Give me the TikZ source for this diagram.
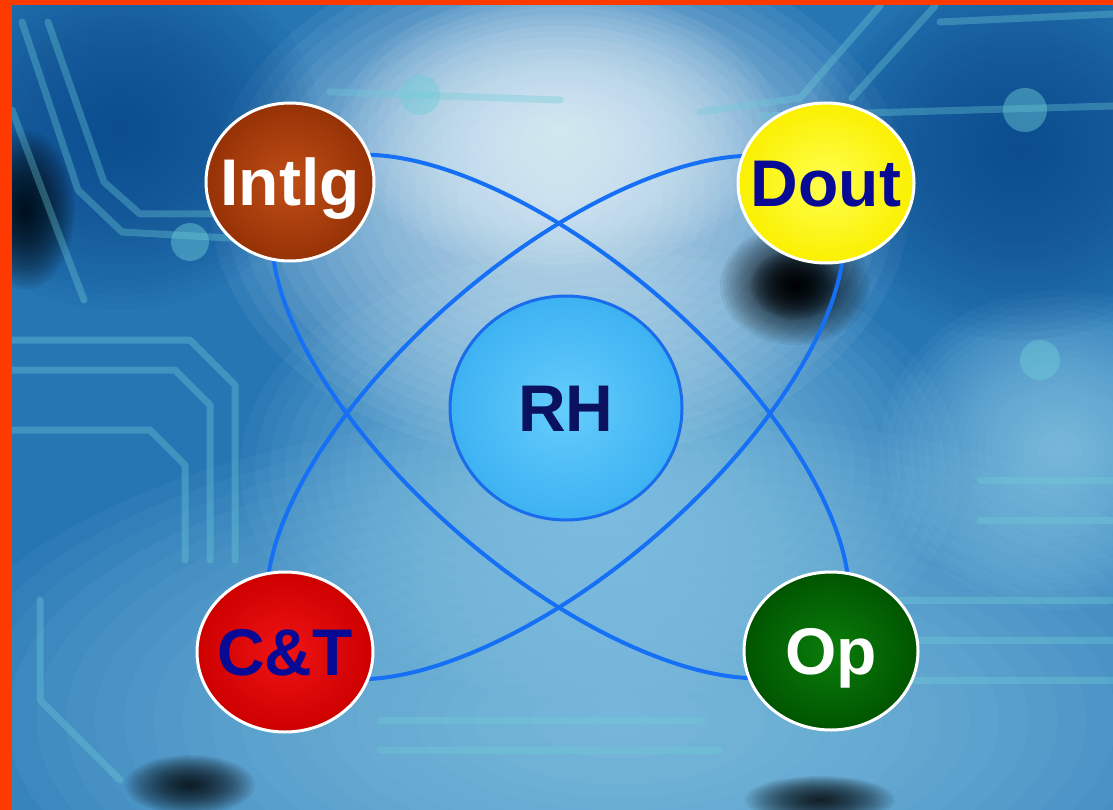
\documentclass[tikz,border=0pt]{standalone}
\usepackage{fontspec}
\setmainfont{Liberation Sans}
\usetikzlibrary{shapes.geometric,calc}
\pgfdeclarelayer{photo}
\pgfdeclarelayer{orbit}
\pgfsetlayers{photo,orbit,main}
\definecolor{bordercol}{RGB}{255,58,0}
\definecolor{bgbase}{RGB}{38,118,180}
\definecolor{bglight}{RGB}{232,247,254}
\definecolor{bgmid}{RGB}{150,210,238}
\definecolor{bgdark}{RGB}{12,72,138}
\definecolor{tracecol}{RGB}{110,205,215}
\definecolor{linkblue}{RGB}{22,112,245}
\definecolor{intlgin}{RGB}{192,78,22}
\definecolor{intlgout}{RGB}{150,50,6}
\definecolor{doutin}{RGB}{255,255,80}
\definecolor{doutout}{RGB}{250,240,0}
\definecolor{ctin}{RGB}{240,20,20}
\definecolor{ctout}{RGB}{205,0,0}
\definecolor{opin}{RGB}{10,125,10}
\definecolor{opout}{RGB}{0,85,0}
\definecolor{rhin}{RGB}{100,205,252}
\definecolor{rhout}{RGB}{62,178,242}
\definecolor{rhedge}{RGB}{25,108,235}
\definecolor{navy}{RGB}{8,10,150}
\definecolor{darknavy}{RGB}{10,18,95}
\newcommand{\blob}[5]{\foreach \k in {1,...,24}{\fill[#5, opacity=0.06] (#1,#2) ellipse [x radius={#3/24*\k*1pt}, y radius={#4/24*\k*1pt}];}}
\begin{document}
\begin{tikzpicture}[x=1pt,y=-1pt,
  orb/.style={ellipse, draw=white, line width=3pt, inner sep=0pt,
    font=\bfseries\fontsize{66}{66}\selectfont, text height=47pt, text depth=0pt},
  link/.style={draw=linkblue, line width=4pt},
  trace/.style={draw=tracecol, line width=7pt, opacity=0.35, line cap=round, line join=round},
  pad/.style={fill=tracecol, opacity=0.45}]
\useasboundingbox (0,0) rectangle (1113,810);
% nodes
\node[orb, minimum width=168pt, minimum height=158pt, inner color=intlgin, outer color=intlgout, text=white] (intlg) at (290,182) {\makebox[0pt]{Intlg}};
\node[orb, minimum width=176pt, minimum height=160pt, inner color=doutin, outer color=doutout, text=navy] (dout) at (826,183) {\makebox[0pt]{Dout}};
\node[orb, minimum width=176pt, minimum height=160pt, inner color=ctin, outer color=ctout, text=navy] (ct) at (285,652) {\makebox[0pt]{C\&T}};
\node[orb, minimum width=174pt, minimum height=158pt, inner color=opin, outer color=opout, text=white] (op) at (831,651) {\makebox[0pt]{Op}};
\node[orb, draw=rhedge, minimum width=232pt, minimum height=224pt, inner color=rhin, outer color=rhout, text=darknavy] (rh) at (566,408) {\makebox[0pt]{RH}};
% orbits
\begin{pgfonlayer}{orbit}
\coordinate (m1) at ($(intlg.center)!0.5!(op.center)$);
\coordinate (m2) at ($(ct.center)!0.5!(dout.center)$);
\draw[link] let \p1=($(op.center)-(intlg.center)$), \n1={atan2(\y1,\x1)}, \n2={veclen(\x1/10,\y1/10)*5} in
  [rotate around={\n1:(m1)}] (m1) ellipse [x radius=\n2, y radius=155pt];
\draw[link] let \p1=($(dout.center)-(ct.center)$), \n1={atan2(\y1,\x1)}, \n2={veclen(\x1/10,\y1/10)*5} in
  [rotate around={\n1:(m2)}] (m2) ellipse [x radius=\n2, y radius=155pt];
\end{pgfonlayer}
% background photo approximation
\begin{pgfonlayer}{photo}
\fill[bgbase] (0,0) rectangle (1113,810);
\blob{620}{720}{700}{310}{bgmid}
\blob{1060}{450}{180}{160}{bgmid}
\blob{600}{470}{360}{230}{bgmid}
\blob{560}{200}{350}{260}{bglight}
\blob{560}{130}{220}{140}{bglight}
\blob{1020}{150}{210}{190}{bgdark}
\blob{120}{130}{200}{180}{bgdark}
\blob{795}{285}{75}{60}{black}
\blob{795}{285}{45}{35}{black}
\blob{25}{210}{50}{80}{black}
\blob{190}{785}{65}{30}{black}
\blob{820}{800}{75}{24}{black}
\draw[trace] (22,22) -- (78,190) -- (122,232) -- (300,242);
\draw[trace] (48,22) -- (104,182) -- (140,214) -- (260,214);
\draw[trace] (12,110) -- (58,232) -- (84,300);
\draw[trace] (330,92) -- (560,100);
\draw[trace] (880,6) -- (800,98) -- (700,112);
\draw[trace] (935,6) -- (852,98);
\draw[trace] (760,116) -- (1113,106);
\draw[trace] (940,22) -- (1113,14);
\draw[trace] (12,340) -- (190,340) -- (235,385) -- (235,560);
\draw[trace] (12,370) -- (175,370) -- (210,405) -- (210,560);
\draw[trace] (12,430) -- (150,430) -- (185,465) -- (185,560);
\draw[trace] (40,600) -- (40,700) -- (120,780);
\draw[trace] (380,720) -- (700,720);
\draw[trace] (380,750) -- (720,750);
\draw[trace] (900,600) -- (1113,600);
\draw[trace] (900,640) -- (1113,640);
\draw[trace] (900,680) -- (1113,680);
\draw[trace] (980,480) -- (1113,480);
\draw[trace] (980,520) -- (1113,520);
\fill[pad] (190,242) circle (19pt);
\fill[pad] (420,95) circle (20pt);
\fill[pad] (1025,110) circle (22pt);
\fill[pad] (1040,360) circle (20pt);
\fill[bordercol] (0,0) rectangle (12,810);
\fill[bordercol] (0,0) rectangle (1113,5);
\end{pgfonlayer}
\end{tikzpicture}
\end{document}
